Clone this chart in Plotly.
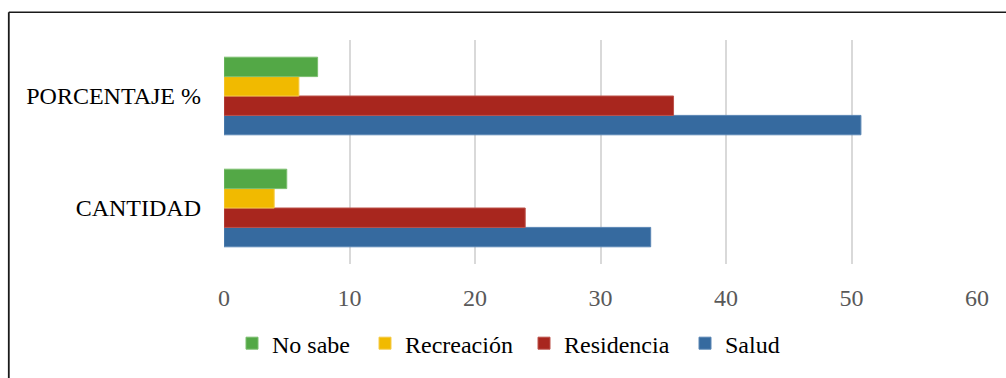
import plotly.graph_objects as go

# Survey results: counts and percentages per destination
categories = ["CANTIDAD", "PORCENTAJE %"]
series_names = ["Salud", "Residencia", "Recreación", "No sabe"]
salud = [34, 50.75]
residencia = [24, 35.82]
recreacion = [4, 5.97]
no_sabe = [5, 7.46]
x_ticks = [0, 10, 20, 30, 40, 50, 60]

values = [salud, residencia, recreacion, no_sabe]
colors = ["#366A9F", "#A8261E", "#F1BA00", "#53A846"]
edges = ["#5A86B4", "#BC524B", "#F5CB4A", "#7BBE6F"]
# one legend box per series so the entries sit in a single row
legend_ids = ["legend4", "legend3", "legend2", "legend"]
legend_left_px = [685, 524, 365, 232]

SERIF = "'Liberation Serif', 'Times New Roman', Times, serif"
FS = 24

W, H = 1006, 378
L, R, T, B = 224, 29, 40, 110
pw, ph = W - L - R, H - T - B

fig = go.Figure()
for name, vals, col, edge, lid in zip(series_names, values, colors, edges, legend_ids):
    fig.add_trace(go.Bar(
        y=categories, x=vals, name=name, orientation="h", legend=lid,
        marker=dict(color=col, line=dict(color=edge, width=1)),
    ))

# outer frame of the chart (top and left edges fall inside the page)
fx0 = (8.8 - L) / pw
fy0 = (H - B - 11.8) / ph
fig.add_shape(type="line", xref="paper", yref="paper",
              x0=fx0, x1=1.2, y0=fy0, y1=fy0,
              line=dict(color="#1a1a1a", width=1.6))
fig.add_shape(type="line", xref="paper", yref="paper",
              x0=fx0, x1=fx0, y0=fy0, y1=-0.6,
              line=dict(color="#1a1a1a", width=1.8))

legend_style = dict(
    orientation="h", xanchor="left", yanchor="middle",
    y=(H - B - 349) / ph,
    font=dict(family=SERIF, size=FS, color="#000000"),
    itemwidth=30, bgcolor="rgba(0,0,0,0)", borderwidth=0,
)
legends = {lid: dict(legend_style, x=(px - L) / pw)
           for lid, px in zip(legend_ids, legend_left_px)}

fig.update_layout(
    width=W, height=H,
    margin=dict(l=L, r=R, t=T, b=B, pad=0),
    paper_bgcolor="white", plot_bgcolor="white",
    barmode="group", bargap=0.307, bargroupgap=0,
    font=dict(family=SERIF, size=FS, color="#000000"),
    showlegend=True,
    xaxis=dict(
        range=[0, 60], tickvals=x_ticks, showgrid=True,
        gridcolor="#D9D9D9", gridwidth=1.5, zeroline=False, showline=False,
        tickfont=dict(family=SERIF, size=FS, color="#595959"),
        ticks="", ticklabelstandoff=17, fixedrange=True,
    ),
    yaxis=dict(
        type="category", categoryorder="array", categoryarray=categories,
        showgrid=False, zeroline=False, showline=False, ticks="",
        tickfont=dict(family=SERIF, size=FS, color="#000000"),
        ticklabelstandoff=22, fixedrange=True,
    ),
    **legends,
)

fig.write_html("out.html")
